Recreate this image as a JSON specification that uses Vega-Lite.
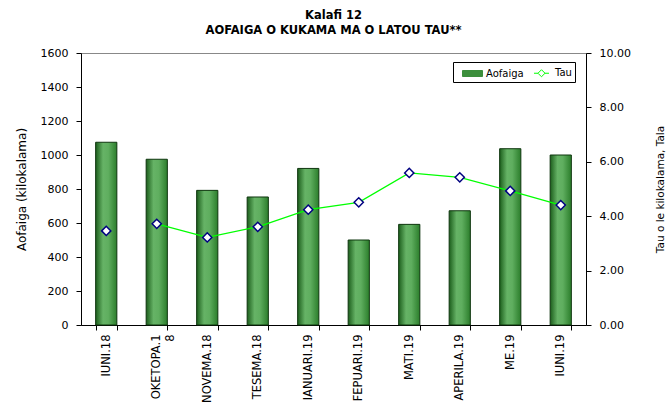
{
  "$schema": "https://vega.github.io/schema/vega-lite/v6.json",
  "width": 505,
  "height": 272,
  "autosize": {"type": "none"},
  "padding": {"left": 81, "top": 53, "right": 81, "bottom": 87},
  "background": "white",
  "config": {
    "font": "DejaVu Sans",
    "view": {"stroke": "#888888", "strokeWidth": 1},
    "axis": {"grid": false, "domainColor": "#000000", "tickColor": "#000000", "labelColor": "#000000", "titleColor": "#000000", "labelFont": "DejaVu Sans", "titleFont": "DejaVu Sans", "titleFontWeight": "normal"}
  },
  "title": {
    "text": ["Kalafi 12", "AOFAIGA O KUKAMA MA O LATOU TAU**"],
    "fontSize": 11.5,
    "fontWeight": "bold",
    "font": "DejaVu Sans",
    "anchor": "middle",
    "frame": "group",
    "lineHeight": 15,
    "offset": 11,
    "color": "#000000"
  },
  "data": {
    "values": [
      {"month": "IUNI.18", "aofaiga": 1075, "tau": 3.46},
      {"month": "OKETOPA.18", "aofaiga": 975, "tau": 3.72},
      {"month": "NOVEMA.18", "aofaiga": 792, "tau": 3.22},
      {"month": "TESEMA.18", "aofaiga": 753, "tau": 3.61},
      {"month": "IANUARI.19", "aofaiga": 921, "tau": 4.24},
      {"month": "FEPUARI.19", "aofaiga": 500, "tau": 4.51},
      {"month": "MATI.19", "aofaiga": 592, "tau": 5.59},
      {"month": "APERILA.19", "aofaiga": 672, "tau": 5.43},
      {"month": "ME.19", "aofaiga": 1037, "tau": 4.93},
      {"month": "IUNI.19", "aofaiga": 1000, "tau": 4.41}
    ]
  },
  "encoding": {
    "x": {
      "field": "month",
      "type": "nominal",
      "sort": null,
      "scale": {"paddingInner": 0.58, "paddingOuter": 0.29},
      "axis": {
        "title": null,
        "labelAngle": -90,
        "labelAlign": "right",
        "labelBaseline": "middle",
        "labelFontSize": 11.5,
        "labelPadding": 4,
        "tickBand": "extent",
        "tickSize": 5,
        "labelExpr": "datum.value == 'OKETOPA.18' ? ['OKETOPA.1', '8'] : datum.value"
      }
    }
  },
  "layer": [
    {
      "mark": {
        "type": "bar",
        "fill": {
          "gradient": "linear",
          "x1": 0, "x2": 1, "y1": 0, "y2": 0,
          "stops": [
            {"offset": 0, "color": "#1c5e1c"},
            {"offset": 0.35, "color": "#66b366"},
            {"offset": 0.6, "color": "#5fae5f"},
            {"offset": 1, "color": "#2b7d2b"}
          ]
        },
        "stroke": "#0f360f",
        "strokeWidth": 1
      },
      "encoding": {
        "y": {
          "field": "aofaiga",
          "type": "quantitative",
          "scale": {"domain": [0, 1600], "nice": false},
          "axis": {
            "title": "Aofaiga (kilokalama)",
            "values": [0, 200, 400, 600, 800, 1000, 1200, 1400, 1600],
            "format": "d",
            "labelFontSize": 11,
            "titleFontSize": 12,
            "tickSize": 5,
            "labelPadding": 8,
            "titlePadding": 12
          }
        }
      }
    },
    {
      "layer": [
        {
          "transform": [{"filter": "datum.month != 'IUNI.18'"}],
          "mark": {"type": "line", "strokeWidth": 1.2},
          "encoding": {
            "y": {"field": "tau", "type": "quantitative"},
            "color": {
              "datum": "Tau",
              "type": "nominal",
              "scale": {"domain": ["Aofaiga", "Tau"], "range": ["#3c8f3c", "#00ff00"]},
              "legend": {
                "title": null,
                "orient": "none",
                "legendX": 372,
                "legendY": 9,
                "direction": "horizontal",
                "padding": 3,
                "strokeColor": "#000000",
                "fillColor": "#ffffff",
                "labelFontSize": 10,
                "labelFont": "DejaVu Sans",
                "labelColor": "#000000",
                "labelOffset": 14,
                "columnPadding": 1,
                "symbolSize": 196,
                "symbolStrokeWidth": 1,
                "encode": {
                  "symbols": {
                    "update": {
                      "shape": {"signal": "datum.value === 'Aofaiga' ? 'M-0.15,-0.3H1.85V0.3H-0.15Z' : 'M0.133,0H0.663M1.603,0H2.133M1.133,-0.47L1.603,0L1.133,0.47L0.663,0Z'"},
                      "size": {"signal": "datum.value === 'Aofaiga' ? 400 : 225"},
                      "fill": {"signal": "datum.value === 'Aofaiga' ? '#3c8f3c' : '#ffffff'"},
                      "stroke": {"signal": "datum.value === 'Aofaiga' ? '#0f360f' : '#00cc00'"},
                      "strokeWidth": {"value": 1},
                      "opacity": {"value": 1}
                    }
                  }
                }
              }
            }
          }
        },
        {
          "mark": {"type": "point", "shape": "diamond", "size": 85, "filled": true, "fill": "#ffffff", "stroke": "#000080", "strokeWidth": 1.5, "opacity": 1},
          "encoding": {
            "y": {"field": "tau", "type": "quantitative"}
          }
        }
      ],
      "encoding": {
        "y": {
          "field": "tau",
          "type": "quantitative",
          "scale": {"domain": [0, 10], "nice": false},
          "axis": {
            "orient": "right",
            "title": "Tau o le kilokalama, Tala",
            "values": [0, 2, 4, 6, 8, 10],
            "format": ".2f",
            "labelFontSize": 11,
            "titleFontSize": 10.5,
            "titleAngle": 270,
            "tickSize": 5,
            "labelPadding": 8,
            "titlePadding": 35
          }
        }
      }
    }
  ],
  "resolve": {"scale": {"y": "independent"}}
}
